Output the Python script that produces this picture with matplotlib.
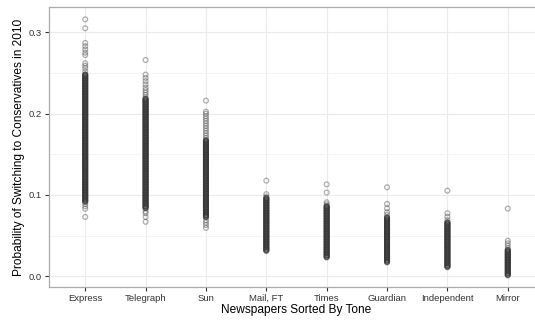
import matplotlib
matplotlib.use("Agg")
import matplotlib.pyplot as plt
import numpy as np

plt.rcParams['font.family'] = ['Liberation Sans', 'DejaVu Sans']

categories = ["Express", "Telegraph", "Sun", "Mail, FT", "Times",
              "Guardian", "Independent", "Mirror"]

# sparse (individually visible) respondents
express_sparse = [0.316, 0.305, 0.287, 0.283, 0.279, 0.275, 0.272, 0.262, 0.259,
                  0.256, 0.252, 0.089, 0.086, 0.083, 0.073]
telegraph_sparse = [0.266, 0.248, 0.244, 0.240, 0.236, 0.232, 0.229, 0.226, 0.223,
                    0.220, 0.080, 0.0775, 0.073, 0.067]
sun_sparse = [0.216, 0.2025, 0.200, 0.197, 0.194, 0.191, 0.188, 0.185, 0.182, 0.179,
              0.176, 0.173, 0.170, 0.069, 0.066, 0.063, 0.0595]
mail_ft_sparse = [0.1176, 0.101, 0.098, 0.031]
times_sparse = [0.113, 0.103, 0.091, 0.0886, 0.023]
guardian_sparse = [0.1095, 0.089, 0.0836, 0.0787, 0.0754, 0.017]
independent_sparse = [0.1053, 0.0775, 0.0733, 0.069, 0.011]
mirror_sparse = [0.0832, 0.0438, 0.0406, 0.0375, 0.0344, 0.001]

# dense core of respondents (many overlapping at each value)
express_core = [0.248, 0.246, 0.244, 0.242, 0.240, 0.238, 0.236, 0.234, 0.232, 0.230,
                0.228, 0.226, 0.224, 0.222, 0.220, 0.218, 0.216, 0.214, 0.212, 0.210,
                0.208, 0.206, 0.204, 0.202, 0.200, 0.198, 0.196, 0.194, 0.192, 0.190,
                0.188, 0.186, 0.184, 0.182, 0.180, 0.178, 0.176, 0.174, 0.172, 0.170,
                0.168, 0.166, 0.164, 0.162, 0.160, 0.158, 0.156, 0.154, 0.152, 0.150,
                0.148, 0.146, 0.144, 0.142, 0.140, 0.138, 0.136, 0.134, 0.132, 0.130,
                0.128, 0.126, 0.124, 0.122, 0.120, 0.118, 0.116, 0.114, 0.112, 0.110,
                0.108, 0.106, 0.104, 0.102, 0.100, 0.098, 0.096, 0.094, 0.092]
telegraph_core = [0.218, 0.216, 0.214, 0.212, 0.210, 0.208, 0.206, 0.204, 0.202, 0.200,
                  0.198, 0.196, 0.194, 0.192, 0.190, 0.188, 0.186, 0.184, 0.182, 0.180,
                  0.178, 0.176, 0.174, 0.172, 0.170, 0.168, 0.166, 0.164, 0.162, 0.160,
                  0.158, 0.156, 0.154, 0.152, 0.150, 0.148, 0.146, 0.144, 0.142, 0.140,
                  0.138, 0.136, 0.134, 0.132, 0.130, 0.128, 0.126, 0.124, 0.122, 0.120,
                  0.118, 0.116, 0.114, 0.112, 0.110, 0.108, 0.106, 0.104, 0.102, 0.100,
                  0.098, 0.096, 0.094, 0.092, 0.090, 0.088, 0.086, 0.084]
sun_core = [0.167, 0.165, 0.163, 0.161, 0.159, 0.157, 0.155, 0.153, 0.151, 0.149,
            0.147, 0.145, 0.143, 0.141, 0.139, 0.137, 0.135, 0.133, 0.131, 0.129,
            0.127, 0.125, 0.123, 0.121, 0.119, 0.117, 0.115, 0.113, 0.111, 0.109,
            0.107, 0.105, 0.103, 0.101, 0.099, 0.097, 0.095, 0.093, 0.091, 0.089,
            0.087, 0.085, 0.083, 0.081, 0.079, 0.077, 0.075, 0.073]
mail_ft_core = [0.096, 0.094, 0.092, 0.090, 0.088, 0.086, 0.084, 0.082, 0.080, 0.078,
                0.076, 0.074, 0.072, 0.070, 0.068, 0.066, 0.064, 0.062, 0.060, 0.058,
                0.056, 0.054, 0.052, 0.050, 0.048, 0.046, 0.044, 0.042, 0.040, 0.038,
                0.036, 0.034, 0.032]
times_core = [0.086, 0.084, 0.082, 0.080, 0.078, 0.076, 0.074, 0.072, 0.070, 0.068,
              0.066, 0.064, 0.062, 0.060, 0.058, 0.056, 0.054, 0.052, 0.050, 0.048,
              0.046, 0.044, 0.042, 0.040, 0.038, 0.036, 0.034, 0.032, 0.030, 0.028,
              0.026, 0.024]
guardian_core = [0.072, 0.070, 0.068, 0.066, 0.064, 0.062, 0.060, 0.058, 0.056, 0.054,
                 0.052, 0.050, 0.048, 0.046, 0.044, 0.042, 0.040, 0.038, 0.036, 0.034,
                 0.032, 0.030, 0.028, 0.026, 0.024, 0.022, 0.020, 0.018]
independent_core = [0.066, 0.064, 0.062, 0.060, 0.058, 0.056, 0.054, 0.052, 0.050,
                    0.048, 0.046, 0.044, 0.042, 0.040, 0.038, 0.036, 0.034, 0.032,
                    0.030, 0.028, 0.026, 0.024, 0.022, 0.020, 0.018, 0.016, 0.014,
                    0.012]
mirror_core = [0.032, 0.030, 0.028, 0.026, 0.024, 0.022, 0.020, 0.018, 0.016, 0.014,
               0.012, 0.010, 0.008, 0.006, 0.004, 0.002]

# respondents stacked at each core value
core_count = 4

sparse_series = [express_sparse, telegraph_sparse, sun_sparse, mail_ft_sparse,
                 times_sparse, guardian_sparse, independent_sparse, mirror_sparse]
core_series = [express_core, telegraph_core, sun_core, mail_ft_core,
               times_core, guardian_core, independent_core, mirror_core]

y_ticks = [0.0, 0.1, 0.2, 0.3]
y_tick_labels = ["0.0", "0.1", "0.2", "0.3"]
y_minor = [0.05, 0.15, 0.25]

W, H = 535, 320
fig = plt.figure(figsize=(W / 100, H / 100), dpi=100)
ax = fig.add_axes([49 / W, 33 / H, 495 / W, 280 / H])

for i, (sp, core) in enumerate(zip(sparse_series, core_series), start=1):
    vals = list(sp) + list(np.repeat(core, core_count))
    ax.scatter([i] * len(vals), vals, s=12, facecolors='none',
               edgecolors=(0.22, 0.22, 0.22, 0.4), linewidths=0.9, zorder=3)

ax.set_xlim(0.4, len(categories) + 0.6)
ax.set_ylim(-0.0132, 0.3312)
ax.set_xticks(range(1, len(categories) + 1))
ax.set_xticklabels(categories)
ax.set_yticks(y_ticks)
ax.set_yticklabels(y_tick_labels)
ax.set_yticks(y_minor, minor=True)

ax.grid(True, which='major', color='#ebebeb', linewidth=0.8, zorder=0)
ax.grid(True, which='minor', axis='y', color='#f3f3f3', linewidth=0.6, zorder=0)
ax.set_axisbelow(True)

for s in ax.spines.values():
    s.set_color('#ababab')
    s.set_linewidth(0.9)

ax.tick_params(axis='both', which='major', length=3, width=0.8, color='#333333',
               labelsize=6.8, labelcolor='#333333', pad=2)
ax.tick_params(axis='y', which='minor', length=0)

ax.set_xlabel("Newspapers Sorted By Tone", fontsize=8.6, labelpad=1)
ax.set_ylabel("Probability of Switching to Conservatives in 2010", fontsize=8.6, labelpad=3)

fig.savefig("out.png", dpi=100)
